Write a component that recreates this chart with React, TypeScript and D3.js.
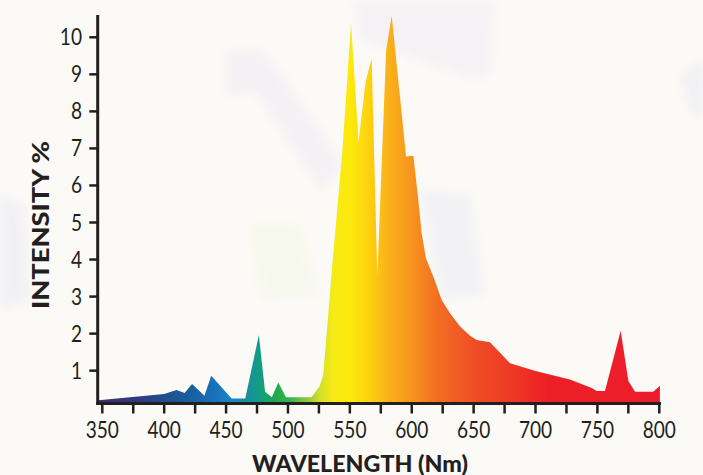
import React from "react";
import * as d3 from "d3";

const wavelengths = [347, 400, 410, 416.5, 422.5, 432.5, 438, 454.5, 465.5, 476.5, 481.5, 487, 492.2, 498.4, 519, 525.5, 528.5, 535.5, 544, 551, 557, 562.7, 567.6, 572.2, 579.3, 583.8, 595.4, 601.3, 605.3, 608, 611.5, 617.4, 624.2, 630.9, 639, 647.1, 652.5, 663.2, 679.4, 700, 727.8, 745.4, 749.4, 756.1, 768.8, 775, 780.4, 795.1, 800.5];
const intensity = [0.2, 0.37, 0.48, 0.4, 0.64, 0.32, 0.86, 0.25, 0.25, 1.96, 0.43, 0.28, 0.68, 0.28, 0.28, 0.57, 0.88, 3.72, 6.96, 10.38, 7.17, 8.8, 9.43, 3.58, 9.66, 10.58, 6.78, 6.8, 5.6, 4.71, 4.03, 3.54, 2.91, 2.55, 2.19, 1.94, 1.83, 1.77, 1.2, 0.99, 0.76, 0.53, 0.45, 0.45, 2.08, 0.72, 0.43, 0.43, 0.59];

const xTickValues = [350, 400, 450, 500, 550, 600, 650, 700, 750, 800];
const xMinorTicks = [375, 425, 475, 525, 575, 625, 675, 725, 775];
const yTickValues = [1, 2, 3, 4, 5, 6, 7, 8, 9, 10];

const spectrumNm = [350, 380, 400, 420, 440, 455, 467, 476, 490, 502, 515, 526, 536, 550, 565, 580, 600, 620, 650, 680, 710, 800];
const spectrumColors = ["#3a2d78", "#2f3c82", "#1f4f8c", "#1a5e9e", "#1871b8", "#1a85c6", "#178f9f", "#139b86", "#1fa94f", "#3bb44a", "#8dc63f", "#d2df2a", "#f6ea16", "#fde90c", "#fdd20e", "#fab31a", "#f7941d", "#f26f22", "#ef4e26", "#ee3a25", "#ed1f26", "#ed1c2b"];

const W = 703;
const H = 475;

export default function App() {
  const x = d3.scaleLinear().domain([350, 800]).range([102.3, 659.3]);
  const y = d3.scaleLinear().domain([0, 10]).range([407.7, 37.3]);
  const axisY = 403.5;
  const axisX = 97.7;
  const data = wavelengths.map((w, i) => ({ w, v: intensity[i] }));
  const area = d3
    .area<{ w: number; v: number }>()
    .x((d) => x(d.w))
    .y0(axisY)
    .y1((d) => y(d.v))
    .curve(d3.curveLinear);
  const axisColor = "#231f20";
  const tickFont = "Lato, 'Open Sans', sans-serif";
  return (
    <div style={{ position: "fixed", left: 0, top: 0, width: W, height: H }}>
      <svg width={W} height={H} style={{ display: "block" }}>
        <defs>
          <linearGradient id="spec" gradientUnits="userSpaceOnUse" x1={x(350)} x2={x(800)} y1={0} y2={0}>
            {spectrumNm.map((nm, i) => (
              <stop key={i} offset={(nm - 350) / 450} stopColor={spectrumColors[i]} />
            ))}
          </linearGradient>
          <filter id="blur" x="-20%" y="-20%" width="140%" height="140%">
            <feGaussianBlur stdDeviation="4" />
          </filter>
        </defs>
        <rect x={0} y={0} width={W} height={H} fill="#fbfaf6" />
        <g filter="url(#blur)" opacity={0.45}>
          <polygon points="225,52 265,50 268,92 228,95" fill="#eee4f0" />
          <polygon points="240,70 268,55 345,165 320,190" fill="#ebe7f3" />
          <polygon points="355,0 495,0 490,75 470,78 360,40" fill="#eee8f3" />
          <polygon points="420,190 470,195 485,295 440,300" fill="#e8e9f4" />
          <polygon points="680,75 703,60 703,118 690,112" fill="#e6e4f1" />
          <polygon points="0,195 25,205 30,300 0,310" fill="#e7e5f1" />
          <polygon points="250,225 300,225 320,295 260,300" fill="#f2f5e4" />
        </g>
        <path d={area(data) ?? ""} fill="url(#spec)" />
        <line x1={axisX} x2={axisX} y1={15} y2={axisY + 1.5} stroke={axisColor} strokeWidth={3} />
        <line x1={axisX - 1.5} x2={661} y1={axisY} y2={axisY} stroke={axisColor} strokeWidth={3} />
        {yTickValues.map((t) => (
          <g key={"y" + t}>
            <line x1={89.3} x2={axisX} y1={y(t)} y2={y(t)} stroke={axisColor} strokeWidth={2.5} />
            <g transform={`translate(82,${y(t) + 8}) scale(0.83,1)`}>
              <text textAnchor="end" fontFamily={tickFont} fontSize={23} fill={axisColor}>
                {t}
              </text>
            </g>
          </g>
        ))}
        {xTickValues.concat(xMinorTicks).map((t) => (
          <line key={"xt" + t} x1={x(t)} x2={x(t)} y1={axisY} y2={413.5} stroke={axisColor} strokeWidth={2.5} />
        ))}
        {xTickValues.map((t) => (
          <g key={"xl" + t} transform={`translate(${x(t)},438.3) scale(0.83,1)`}>
            <text textAnchor="middle" fontFamily={tickFont} fontSize={23} fill={axisColor}>
              {t}
            </text>
          </g>
        ))}
        <text
          transform="translate(49,225) rotate(-90)"
          textAnchor="middle"
          fontFamily="Lato, 'Open Sans', sans-serif"
          fontWeight={900}
          fontSize={22}
          fill={axisColor}
          textLength={168}
          lengthAdjust="spacingAndGlyphs"
        >
          INTENSITY %
        </text>
        <text
          x={360}
          y={471.5}
          textAnchor="middle"
          fontFamily="Lato, 'Open Sans', sans-serif"
          fontWeight={900}
          fontSize={22}
          fill={axisColor}
          textLength={216}
          lengthAdjust="spacingAndGlyphs"
        >
          WAVELENGTH (Nm)
        </text>
      </svg>
    </div>
  );
}
